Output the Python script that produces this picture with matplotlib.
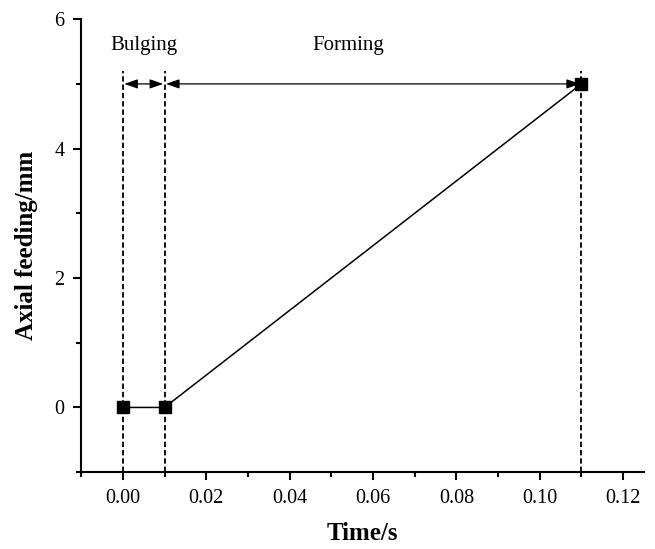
import matplotlib.pyplot as plt
from matplotlib.ticker import MultipleLocator

# axial feeding path
time = [0.0, 0.01, 0.11]
feed = [0.0, 0.0, 5.0]

# stage boundaries and labels
stage_edges = [0.0, 0.01, 0.11]
stage_names = ["Bulging", "Forming"]

plt.rcParams['font.family'] = ['Liberation Serif', 'DejaVu Serif']

fig = plt.figure(figsize=(6.55, 5.49), dpi=100)
ax = fig.add_axes([0.124, 0.140, 0.859, 0.825])

ax.plot(time, feed, color='black', lw=1.1, marker='s', ms=8, zorder=3)

# dashed guide lines at the stage edges
for x in stage_edges:
    ax.plot([x, x], [-1, 5.2], ls=(0, (3, 1.6)), color='black', lw=1.3)

# stage arrows and names
arrow_y = 5.0
for i, name in enumerate(stage_names):
    x0, x1 = stage_edges[i], stage_edges[i + 1]
    ax.annotate("", xy=(x1, arrow_y), xytext=(x0, arrow_y),
                arrowprops=dict(arrowstyle='<|-|>,head_length=0.8,head_width=0.28',
                                color='black', lw=0.9, shrinkA=1, shrinkB=1))
ax.text(0.005, 5.6, stage_names[0], ha='center', va='center', fontsize=15)
ax.text(0.054, 5.6, stage_names[1], ha='center', va='center', fontsize=15)

ax.set_xlim(-0.01, 0.125)
ax.set_ylim(-1, 6)
ax.xaxis.set_major_locator(MultipleLocator(0.02))
ax.xaxis.set_minor_locator(MultipleLocator(0.01))
ax.yaxis.set_major_locator(MultipleLocator(2))
ax.yaxis.set_minor_locator(MultipleLocator(1))
ax.set_xticks([0, 0.02, 0.04, 0.06, 0.08, 0.10, 0.12])
ax.set_xticklabels(["0.00", "0.02", "0.04", "0.06", "0.08", "0.10", "0.12"])
ax.set_yticks([0, 2, 4, 6])

ax.spines['top'].set_visible(False)
ax.spines['right'].set_visible(False)
for s in ('left', 'bottom'):
    ax.spines[s].set_linewidth(1.5)
ax.tick_params(which='major', direction='out', length=6, width=1.5, labelsize=14.5, pad=6)
ax.tick_params(which='minor', direction='out', length=3.5, width=1.5)

ax.set_xlabel("Time/s", fontsize=18, fontweight='bold', labelpad=10)
ax.set_ylabel("Axial feeding/mm", fontsize=18, fontweight='bold', labelpad=12)

fig.savefig("out.png", dpi=100)
